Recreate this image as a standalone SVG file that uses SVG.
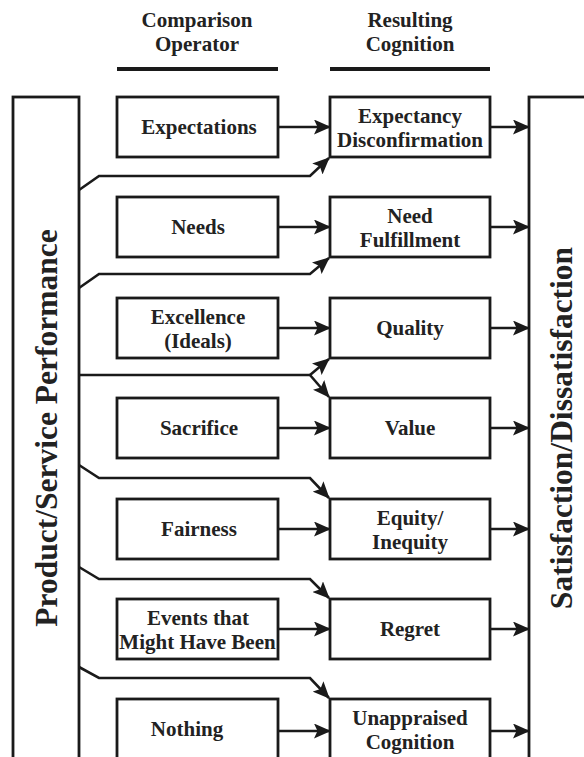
<svg xmlns="http://www.w3.org/2000/svg" width="584" height="757" viewBox="0 0 584 757">
<defs>
<marker id="ah" markerUnits="userSpaceOnUse" viewBox="0 0 17 15" refX="16" refY="7.5" markerWidth="17" markerHeight="15" orient="auto">
<path d="M0,0 L17,7.5 L0,15 L3.5,7.5 z" fill="#1a1a1a"/>
</marker>
<style>
.box{fill:#fff;stroke:#1a1a1a;stroke-width:2.8}
.t{font-family:"Liberation Serif","Times New Roman",serif;font-weight:bold;font-size:21px;fill:#222;text-anchor:middle}
.big{font-size:31.5px}
.ln{fill:none;stroke:#1a1a1a;stroke-width:2.6}
.ar{fill:none;stroke:#1a1a1a;stroke-width:2.6;marker-end:url(#ah)}
.ul{stroke:#1a1a1a;stroke-width:4}
</style>
</defs>
<rect width="584" height="757" fill="#fff"/>
<g id="headers">
<text class="t" x="197" y="27">Comparison</text>
<text class="t" x="197" y="51">Operator</text>
<line class="ul" x1="117" y1="69" x2="278" y2="69"/>
<text class="t" x="410" y="27">Resulting</text>
<text class="t" x="410" y="51">Cognition</text>
<line class="ul" x1="330" y1="69" x2="490" y2="69"/>
</g>
<g id="performance">
<rect class="box" x="13" y="97" width="66" height="700"/>
<text class="t big" transform="translate(57,428) rotate(-90)">Product/Service Performance</text>
</g>
<g id="satisfaction">
<rect class="box" x="529" y="97" width="100" height="700"/>
<text class="t big" transform="translate(572,428) rotate(-90)">Satisfaction/Dissatisfaction</text>
</g>
<g id="expectations"><rect class="box" x="117" y="97" width="161" height="60"/><text class="t" x="199" y="134">Expectations</text></g>
<g id="needs"><rect class="box" x="117" y="197" width="161" height="60"/><text class="t" x="198" y="234">Needs</text></g>
<g id="excellence"><rect class="box" x="117" y="298" width="161" height="60"/><text class="t" x="198" y="324">Excellence</text><text class="t" x="198" y="348">(Ideals)</text></g>
<g id="sacrifice"><rect class="box" x="117" y="398" width="161" height="60"/><text class="t" x="199" y="435">Sacrifice</text></g>
<g id="fairness"><rect class="box" x="117" y="499" width="161" height="60"/><text class="t" x="199" y="536">Fairness</text></g>
<g id="events"><rect class="box" x="117" y="599" width="161" height="60"/><text class="t" x="198" y="625">Events that</text><text class="t" x="197.5" y="649">Might Have Been</text></g>
<g id="nothing"><rect class="box" x="117" y="699" width="161" height="70"/><text class="t" x="187" y="736">Nothing</text></g>
<g id="disconfirmation"><rect class="box" x="330" y="97" width="160" height="60"/><text class="t" x="410" y="123">Expectancy</text><text class="t" x="410" y="147">Disconfirmation</text></g>
<g id="fulfillment"><rect class="box" x="330" y="197" width="160" height="60"/><text class="t" x="410" y="223">Need</text><text class="t" x="410" y="247">Fulfillment</text></g>
<g id="quality"><rect class="box" x="330" y="298" width="160" height="60"/><text class="t" x="410" y="335">Quality</text></g>
<g id="value"><rect class="box" x="330" y="398" width="160" height="60"/><text class="t" x="410" y="435">Value</text></g>
<g id="equity"><rect class="box" x="330" y="499" width="160" height="60"/><text class="t" x="410" y="525">Equity/</text><text class="t" x="410" y="549">Inequity</text></g>
<g id="regret"><rect class="box" x="330" y="599" width="160" height="60"/><text class="t" x="410" y="636">Regret</text></g>
<g id="unappraised"><rect class="box" x="330" y="699" width="160" height="70"/><text class="t" x="410" y="725">Unappraised</text><text class="t" x="410" y="749">Cognition</text></g>
<g id="connectors">
<line class="ar" x1="278" y1="127" x2="330" y2="127"/>
<line class="ar" x1="278" y1="227" x2="330" y2="227"/>
<line class="ar" x1="278" y1="328" x2="330" y2="328"/>
<line class="ar" x1="278" y1="428" x2="330" y2="428"/>
<line class="ar" x1="278" y1="529" x2="330" y2="529"/>
<line class="ar" x1="278" y1="629" x2="330" y2="629"/>
<line class="ar" x1="278" y1="731" x2="330" y2="731"/>
<line class="ar" x1="490" y1="127" x2="529" y2="127"/>
<line class="ar" x1="490" y1="227" x2="529" y2="227"/>
<line class="ar" x1="490" y1="328" x2="529" y2="328"/>
<line class="ar" x1="490" y1="428" x2="529" y2="428"/>
<line class="ar" x1="490" y1="529" x2="529" y2="529"/>
<line class="ar" x1="490" y1="629" x2="529" y2="629"/>
<line class="ar" x1="490" y1="731" x2="529" y2="731"/>
<polyline class="ar" points="79,190 99,176 310,176 329,158"/>
<polyline class="ar" points="79,288 99,274 310,274 329,258"/>
<polyline class="ln" points="79,375 310,375"/>
<polyline class="ar" points="310,375 329,359"/>
<polyline class="ar" points="310,375 329,397"/>
<polyline class="ar" points="79,465 99,478 310,478 329,498"/>
<polyline class="ar" points="79,567 99,579 310,579 329,598"/>
<polyline class="ar" points="79,667 99,678 310,678 329,698"/>
</g>
</svg>
